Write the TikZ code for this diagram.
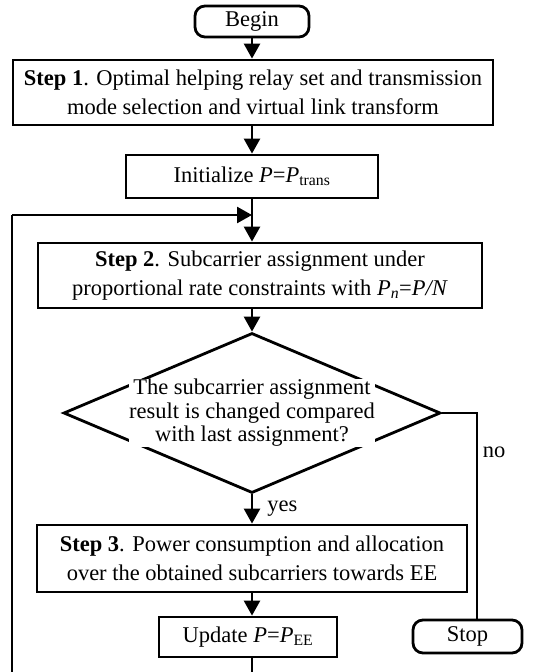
\documentclass[tikz,border=0pt]{standalone}
\usepackage{fontspec}
\setmainfont{Liberation Serif}
\usetikzlibrary{arrows.meta,shapes.geometric}
\begin{document}
\begin{tikzpicture}[x=1pt,y=-1pt,
  font=\fontsize{22.5}{29}\selectfont,
  line width=2.8pt,
  procbox/.style={draw,fill=white,rectangle,inner sep=0pt,align=center},
  termbox/.style={draw,fill=white,rectangle,rounded corners=10pt,inner sep=0pt,align=center},
  arr/.style={-{Triangle[length=15pt,width=16pt]},line width=2.6pt},
  conn/.style={line width=2.6pt},
  lbl/.style={inner sep=0pt}]
\useasboundingbox (0,0) rectangle (545,672);
\begin{scope}
\clip (0,0) rectangle (545,672);
\node[termbox,minimum width=114pt,minimum height=31pt] (begin) at (252,21.5) {Begin};
\node[procbox,minimum width=480pt,minimum height=65pt] (s1) at (253,92.5)
  {\textbf{Step 1}. Optimal helping relay set and transmission\\mode selection and virtual link transform};
\node[procbox,minimum width=252pt,minimum height=43pt] (init) at (252,176.5)
  {Initialize \textit{P}=\textit{P}\textsubscript{trans}};
\node[procbox,minimum width=444pt,minimum height=65pt] (s2) at (260,275.5)
  {\textbf{Step 2}. Subcarrier assignment under\\proportional rate constraints with \textit{P}\textsubscript{\textit{n}}=\textit{P/N}};
\node[draw,diamond,inner sep=0pt,minimum width=377pt,minimum height=160pt,fill=white] (dec) at (252,413) {};
\node[fill=white,inner sep=0.5pt,align=center,font=\fontsize{22.5}{23.5}\selectfont] (dectext) at (252,413)
  {The subcarrier assignment\\result is changed compared\\with last assignment?};
\node[procbox,minimum width=430pt,minimum height=67pt] (s3) at (252,558.5)
  {\textbf{Step 3}. Power consumption and allocation\\over the obtained subcarriers towards EE};
\node[procbox,minimum width=178pt,minimum height=40pt] (upd) at (248,637)
  {Update \textit{P}=\textit{P}\textsubscript{EE}};
\node[termbox,minimum width=109pt,minimum height=33pt] (stop) at (467.5,636.5) {Stop};
\coordinate (join) at (252,215);
\coordinate (lefttop) at (12,215);
\coordinate (leftbot) at (12,700);
\coordinate (noturn) at (477,413);
\draw[arr] (begin.south -| join) -- (s1.north -| join);
\draw[arr] (s1.south -| join) -- (init.north -| join);
\draw[arr] (init.south -| join) -- (s2.north -| join);
\draw[arr] (s2.south -| join) -- (dec.north);
\draw[arr] (dec.south) -- (s3.north -| join) node[lbl,midway,right=14pt] {yes};
\draw[arr] (s3.south -| join) -- (upd.north -| join);
\draw[conn] (dec.east) -- (noturn) -- (noturn |- stop.north);
\node[lbl] (nolbl) at (494,452) {no};
\draw[conn] (upd.south -| join) -- (join |- leftbot) -- (leftbot) -- (lefttop);
\draw[arr] (lefttop) -- (join);
\end{scope}
\end{tikzpicture}
\end{document}
